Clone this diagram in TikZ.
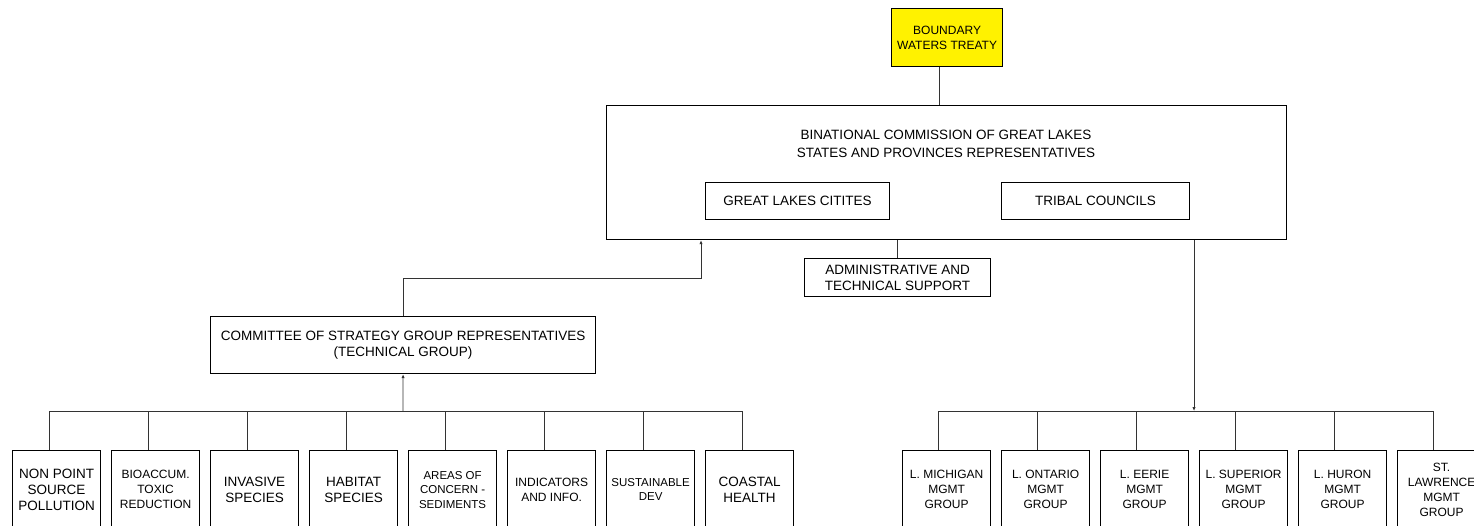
\documentclass[tikz,border=0pt]{standalone}
\usepackage{fontspec}
\setmainfont{Liberation Sans}
\usetikzlibrary{arrows.meta}
\newcommand{\fsz}[1]{\fontsize{#1}{#1*1.18}\selectfont}
\tikzset{
  box/.style={draw=black, line width=1.2pt, inner sep=0pt, align=center,
              anchor=north west, font=\fontsize{13.5}{16}\selectfont},
  small/.style={font=\fontsize{12}{15}\selectfont},
  smaller/.style={font=\fontsize{11.5}{14.5}\selectfont},
  leaf/.style={box, minimum width=88pt, minimum height=78pt},
  link/.style={draw=black!80, line width=0.8pt},
  tip/.style={-{Latex[length=4pt,width=3.4pt]}}
}
\begin{document}
\begin{tikzpicture}[x=1pt,y=-1pt]
\clip (0,0) rectangle (1474,525);
\fill[white] (0,0) rectangle (1474,525);

% treaty and commission
\node[box, small, fill=yellow, minimum width=111pt, minimum height=58pt] (bwt) at (891,8)
  {BOUNDARY\\WATERS TREATY};
\node[box, minimum width=680pt, minimum height=134pt] (bc) at (606,105) {};
\node[align=center, inner sep=0pt, font=\fontsize{13.5}{18}\selectfont] (bctitle) at (946,144)
  {BINATIONAL COMMISSION OF GREAT LAKES\\STATES AND PROVINCES REPRESENTATIVES};
\node[box, minimum width=184pt, minimum height=37pt] (glc) at (705,182) {GREAT LAKES CITITES};
\node[box, minimum width=188pt, minimum height=37pt] (tc) at (1001,182) {TRIBAL COUNCILS};
\node[box, minimum width=186pt, minimum height=38pt] (adm) at (804,258)
  {ADMINISTRATIVE AND\\TECHNICAL SUPPORT};

% technical committee
\node[box, minimum width=385pt, minimum height=57pt] (cm) at (210,316)
  {COMMITTEE OF STRATEGY GROUP REPRESENTATIVES\\(TECHNICAL GROUP)};

% strategy groups
\node[leaf] (b1) at (12,450) {NON POINT\\SOURCE\\POLLUTION};
\node[leaf, small] (b2) at (111,450) {BIOACCUM.\\TOXIC\\REDUCTION};
\node[leaf] (b3) at (210,450) {INVASIVE\\SPECIES};
\node[leaf] (b4) at (309,450) {HABITAT\\SPECIES};
\node[leaf, smaller] (b5) at (408,450) {AREAS OF\\CONCERN -\\SEDIMENTS};
\node[leaf, small] (b6) at (507,450) {INDICATORS\\AND INFO.};
\node[leaf, smaller] (b7) at (606,450) {SUSTAINABLE\\DEV};
\node[leaf] (b8) at (705,450) {COASTAL\\HEALTH};

% lake management groups
\node[leaf, small] (r1) at (902,450) {L. MICHIGAN\\MGMT\\GROUP};
\node[leaf, small] (r2) at (1001,450) {L. ONTARIO\\MGMT\\GROUP};
\node[leaf, small] (r3) at (1100,450) {L. EERIE\\MGMT\\GROUP};
\node[leaf, small] (r4) at (1199,450) {L. SUPERIOR\\MGMT\\GROUP};
\node[leaf, small] (r5) at (1298,450) {L. HURON\\MGMT\\GROUP};
\node[leaf, small] (r6) at (1397,450) {ST.\\LAWRENCE\\MGMT\\GROUP};

% junction points
\coordinate (bcin) at ([xshift=95pt]bc.south west);
\coordinate (lbus) at (403,411);
\coordinate (rbus) at (1194,411);

% connectors
\draw[link] ([xshift=-8pt]bwt.south) -- ([xshift=-8pt]bwt.south |- bc.north);
\draw[link] (bc.south -| adm.north) -- (adm.north);
\draw[link, tip] (cm.north) -- ++(0,-38) -| (bcin);
\draw[link, tip] (lbus) -- (cm.south);
\draw[link, tip] (bc.south -| rbus) -- (rbus);

\draw[link] ([xshift=-7pt]b1.north) -- ([xshift=-7pt]b1.north |- lbus)
  -- ([xshift=-7pt]b8.north |- lbus) -- ([xshift=-7pt]b8.north);
\foreach \b in {b2,b3,b4,b5,b6,b7}
  \draw[link] ([xshift=-7pt]\b.north) -- ([xshift=-7pt]\b.north |- lbus);

\draw[link] ([xshift=-8pt]r1.north) -- ([xshift=-8pt]r1.north |- rbus)
  -- ([xshift=-8pt]r6.north |- rbus) -- ([xshift=-8pt]r6.north);
\foreach \r in {r2,r3,r4,r5}
  \draw[link] ([xshift=-8pt]\r.north) -- ([xshift=-8pt]\r.north |- rbus);
\end{tikzpicture}
\end{document}
